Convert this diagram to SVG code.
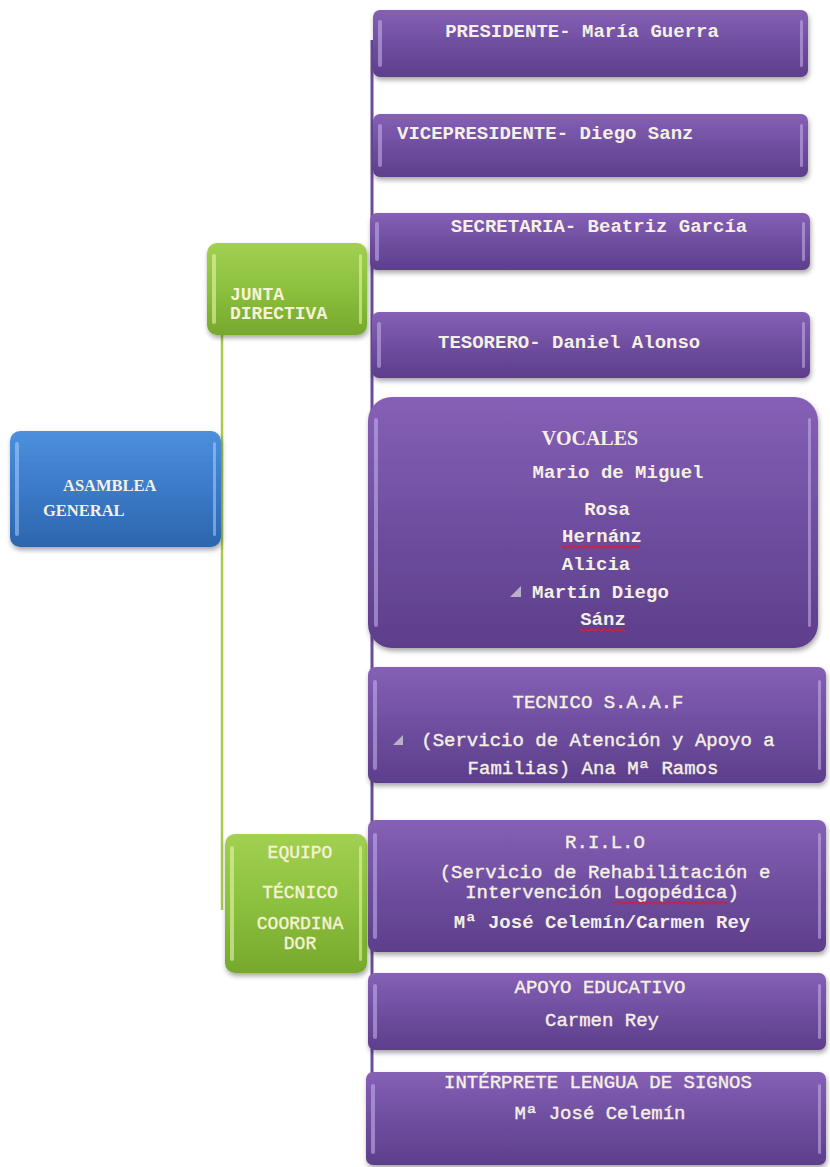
<svg xmlns="http://www.w3.org/2000/svg" width="830" height="1167" viewBox="0 0 830 1167">
<defs>
<linearGradient id="gPur" x1="0" y1="0" x2="0" y2="1">
<stop offset="0" stop-color="#8660b6"/><stop offset="0.45" stop-color="#7150a2"/><stop offset="1" stop-color="#5d3e8b"/>
</linearGradient>
<linearGradient id="gBlue" x1="0" y1="0" x2="0" y2="1">
<stop offset="0" stop-color="#4d90dc"/><stop offset="0.5" stop-color="#3b7ac8"/><stop offset="1" stop-color="#2c66ad"/>
</linearGradient>
<linearGradient id="gGreen" x1="0" y1="0" x2="0" y2="1">
<stop offset="0" stop-color="#a2d052"/><stop offset="0.5" stop-color="#8cc03e"/><stop offset="1" stop-color="#76a82c"/>
</linearGradient>
<filter id="sh" x="-5%" y="-10%" width="110%" height="125%">
<feDropShadow dx="1" dy="3" stdDeviation="2.5" flood-color="#000" flood-opacity="0.35"/>
</filter>
<style>
.pur{fill:url(#gPur);filter:url(#sh)}
.blu{fill:url(#gBlue);filter:url(#sh)}
.grn{fill:url(#gGreen);filter:url(#sh)}
.hl{fill:#c8b4ee;opacity:0.55}
.hlg{fill:#e4f5a8;opacity:0.6}
.hlb{fill:#a8d0ff;opacity:0.55}
.t{font-family:"Liberation Mono","DejaVu Sans Mono",monospace;font-weight:bold;font-size:19px;fill:#f4f0e4}
.r{font-weight:normal;stroke:#f4f0e4;stroke-width:0.4}
.tg{font-family:"Liberation Mono","DejaVu Sans Mono",monospace;font-weight:bold;font-size:18px;fill:#f6f2d6}
.tgr{font-weight:normal;stroke:#f6f2d6;stroke-width:0.4}
.ts{font-family:"Liberation Serif","DejaVu Serif",serif;font-weight:bold;fill:#f4f0e4}
.m{text-anchor:middle}
.sq{fill:none;stroke:#d0203c;stroke-width:1.6}
.tri{fill:#b9b2c6}
.cg{stroke:#a9c84c;stroke-width:2.5;fill:none}
.cp{stroke:#6b4c9a;stroke-width:3;fill:none}
</style>
</defs>
<rect width="830" height="1167" fill="#ffffff"/>

<g id="connectors">
<line class="cg" x1="222" y1="330" x2="222" y2="910"/>
<line class="cp" x1="372" y1="40" x2="372" y2="1145"/>
</g>

<g id="asamblea">
<rect class="blu" x="10" y="431" width="211" height="116" rx="10"/>
<rect class="hlb" x="15" y="442" width="4" height="94" rx="2"/>
<rect class="hlb" x="213" y="442" width="3" height="94" rx="1.5"/>
<text class="ts" font-size="16.5" x="63" y="491">ASAMBLEA</text>
<text class="ts" font-size="16.5" x="43" y="516">GENERAL</text>
</g>

<g id="junta">
<rect class="grn" x="207" y="243" width="160" height="92" rx="10"/>
<rect class="hlg" x="212" y="254" width="4" height="70" rx="2"/>
<rect class="hlg" x="359" y="254" width="3" height="70" rx="1.5"/>
<text class="tg" x="230" y="300">JUNTA</text>
<text class="tg" x="230" y="319">DIRECTIVA</text>
</g>

<g id="equipo">
<rect class="grn" x="225" y="834" width="142" height="139" rx="10"/>
<rect class="hlg" x="230" y="846" width="4" height="115" rx="2"/>
<rect class="hlg" x="359" y="846" width="3" height="115" rx="1.5"/>
<text class="tg tgr m" x="300" y="858">EQUIPO</text>
<text class="tg tgr m" x="300" y="898">TÉCNICO</text>
<text class="tg tgr m" x="300" y="929">COORDINA</text>
<text class="tg tgr m" x="300" y="949">DOR</text>
</g>

<g id="presidente">
<rect class="pur" x="373" y="10" width="435" height="67" rx="7"/>
<rect class="hl" x="378" y="20" width="4" height="47" rx="2"/>
<rect class="hl" x="800" y="20" width="3" height="47" rx="1.5"/>
<text class="t m" x="582" y="37">PRESIDENTE- María Guerra</text>
</g>

<g id="vicepresidente">
<rect class="pur" x="373" y="114" width="435" height="63" rx="7"/>
<rect class="hl" x="378" y="124" width="4" height="43" rx="2"/>
<rect class="hl" x="800" y="124" width="3" height="43" rx="1.5"/>
<text class="t" x="397" y="139">VICEPRESIDENTE- Diego Sanz</text>
</g>

<g id="secretaria">
<rect class="pur" x="370" y="213" width="440" height="57" rx="7"/>
<rect class="hl" x="375" y="222" width="4" height="39" rx="2"/>
<rect class="hl" x="802" y="222" width="3" height="39" rx="1.5"/>
<text class="t m" x="599" y="232">SECRETARIA- Beatriz García</text>
</g>

<g id="tesorero">
<rect class="pur" x="372" y="312" width="438" height="66" rx="7"/>
<rect class="hl" x="377" y="322" width="4" height="46" rx="2"/>
<rect class="hl" x="802" y="322" width="3" height="46" rx="1.5"/>
<text class="t" x="438" y="348">TESORERO- Daniel Alonso</text>
</g>

<g id="vocales">
<rect class="pur" x="368" y="397" width="450" height="251" rx="24"/>
<rect class="hl" x="374" y="418" width="4" height="209" rx="2"/>
<rect class="hl" x="808" y="418" width="3" height="209" rx="1.5"/>
<text class="ts m" font-size="20" x="590" y="445">VOCALES</text>
<text class="t m" x="618" y="478">Mario de Miguel</text>
<text class="t m" x="607" y="515">Rosa</text>
<text class="t m" x="602" y="542">Hernánz</text>
<path class="sq" d="M562,546 l3,2 l3,-2 l3,2 l3,-2 l3,2 l3,-2 l3,2 l3,-2 l3,2 l3,-2 l3,2 l3,-2 l3,2 l3,-2 l3,2 l3,-2 l3,2 l3,-2 l3,2 l3,-2 l3,2 l3,-2 l3,2 l3,-2 l3,2 l3,-2"/>
<text class="t m" x="596" y="570">Alicia</text>
<polygon class="tri" points="521,586 521,597 510,597"/>
<text class="t" x="532" y="598">Martín Diego</text>
<text class="t m" x="603" y="625">Sánz</text>
<path class="sq" d="M580,629 l3,2 l3,-2 l3,2 l3,-2 l3,2 l3,-2 l3,2 l3,-2 l3,2 l3,-2 l3,2 l3,-2 l3,2 l3,-2 l3,2"/>
</g>

<g id="tecnico">
<rect class="pur" x="368" y="667" width="458" height="116" rx="8"/>
<rect class="hl" x="373" y="680" width="4" height="90" rx="2"/>
<rect class="hl" x="818" y="680" width="3" height="90" rx="1.5"/>
<text class="t r m" x="598" y="708">TECNICO S.A.A.F</text>
<polygon class="tri" points="403,735 403,745 393,745"/>
<text class="t r m" x="598" y="746">(Servicio de Atención y Apoyo a</text>
<text class="t r m" x="593" y="774">Familias) Ana Mª Ramos</text>
</g>

<g id="rilo">
<rect class="pur" x="368" y="820" width="458" height="132" rx="8"/>
<rect class="hl" x="373" y="833" width="4" height="106" rx="2"/>
<rect class="hl" x="818" y="833" width="3" height="106" rx="1.5"/>
<text class="t r m" x="605" y="848">R.I.L.O</text>
<text class="t r m" x="605" y="878">(Servicio de Rehabilitación e</text>
<text class="t r m" x="602" y="898">Intervención Logopédica)</text>
<path class="sq" d="M613,902 l3,2 l3,-2 l3,2 l3,-2 l3,2 l3,-2 l3,2 l3,-2 l3,2 l3,-2 l3,2 l3,-2 l3,2 l3,-2 l3,2 l3,-2 l3,2 l3,-2 l3,2 l3,-2 l3,2 l3,-2 l3,2 l3,-2 l3,2 l3,-2 l3,2 l3,-2 l3,2 l3,-2 l3,2 l3,-2 l3,2 l3,-2 l3,2 l3,-2 l3,2 l3,-2"/>
<text class="t m" x="602" y="928">Mª José Celemín/Carmen Rey</text>
</g>

<g id="apoyo">
<rect class="pur" x="368" y="973" width="458" height="77" rx="7"/>
<rect class="hl" x="373" y="984" width="4" height="55" rx="2"/>
<rect class="hl" x="818" y="984" width="3" height="55" rx="1.5"/>
<text class="t r m" x="600" y="993">APOYO EDUCATIVO</text>
<text class="t r m" x="602" y="1026">Carmen Rey</text>
</g>

<g id="interprete">
<rect class="pur" x="366" y="1072" width="460" height="93" rx="7"/>
<rect class="hl" x="371" y="1084" width="4" height="70" rx="2"/>
<rect class="hl" x="818" y="1084" width="3" height="70" rx="1.5"/>
<text class="t r m" x="598" y="1088">INTÉRPRETE LENGUA DE SIGNOS</text>
<text class="t r m" x="600" y="1119">Mª José Celemín</text>
</g>
</svg>
